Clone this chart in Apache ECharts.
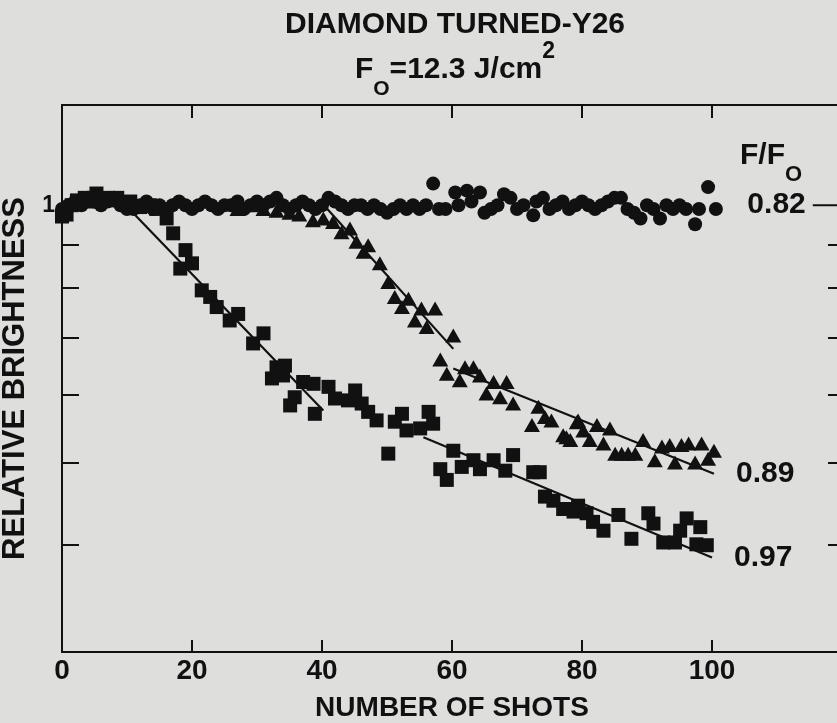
<!DOCTYPE html>
<html>
<head>
<meta charset="utf-8">
<script src="https://cdn.jsdelivr.net/npm/echarts@6/dist/echarts.min.js"></script>
<style>
  html, body { margin: 0; padding: 0; background: #dedfdd; }
  #chart { width: 837px; height: 723px; }
</style>
</head>
<body>
<div id="chart"></div>
<script>
// Axis ticks and labels
const xTickLabels = [0, 20, 40, 60, 80, 100];
const yTickValues = [0.4, 0.5, 0.6, 0.7, 0.8, 0.9, 1];
const yRightTickValues = [0.4, 0.5, 0.6, 0.7, 0.8, 0.9];
const yLabelValues = [1];
const ratioLabels = ['0.82', '0.89', '0.97'];

// F/F0 = 0.82 (circles): [shot, relative brightness]
const circles = [
  [0, 0.99], [1, 1.00], [2, 1.01], [3, 1.00], [4, 1.02], [5, 1.01], [6, 1.00], [7, 1.01],
  [8, 1.02], [9, 1.00], [10, 0.99], [11, 0.99], [12, 1.00], [13, 1.01], [14, 0.99], [15, 1.00],
  [16, 0.99], [17, 1.00], [18, 1.01], [19, 1.00], [20, 0.99], [21, 1.00], [22, 1.01], [23, 1.00],
  [24, 0.99], [25, 1.00], [26, 1.00], [27, 1.01], [28, 0.99], [29, 1.00], [30, 1.01], [31, 1.00],
  [32, 1.01], [33, 1.02], [34, 1.00], [35, 0.99], [36, 1.00], [37, 1.01], [38, 1.00], [39, 0.99],
  [40, 1.00], [41, 1.02], [42, 1.01], [43, 1.00], [44, 0.99], [45, 1.00], [46, 1.00], [47, 0.99],
  [48, 1.00], [49, 0.99], [50, 0.98], [51, 0.99], [52, 1.00], [53, 0.99], [54, 1.00], [55, 0.99],
  [56, 1.00], [57.1, 1.06], [58, 0.99], [59, 0.99], [60.5, 1.035], [61, 1.00], [62.3, 1.04],
  [63, 1.01], [64.3, 1.035], [65, 0.98], [66, 0.99], [67, 1.00], [68, 1.03], [69, 1.02], [70, 0.99],
  [71, 1.00], [72.5, 0.973], [73, 1.01], [74, 1.02], [75, 0.99], [76, 1.00], [77, 1.01], [78, 0.99],
  [79, 1.00], [80, 1.01], [81, 1.00], [82, 0.99], [83, 1.00], [84, 1.01], [85, 1.02], [86, 1.02],
  [87, 0.99], [88, 0.98], [89, 0.965], [90, 1.00], [91, 0.99], [92, 0.965], [93, 1.00], [94, 0.99],
  [95, 1.00], [96, 0.99], [97.4, 0.95], [98, 0.99], [99.4, 1.05], [100.6, 0.99]
];

// F/F0 = 0.89 (triangles)
const triangles = [
  [27, 0.99], [29.5, 1.00], [31, 0.99], [33, 0.985], [35, 0.98], [36.5, 0.975], [38.6, 0.96],
  [40.2, 0.965], [41.7, 0.956], [43.0, 0.930], [44.3, 0.939], [45.3, 0.906], [46.4, 0.882],
  [47.1, 0.898], [48.9, 0.855], [50.2, 0.813], [51.2, 0.781], [52.3, 0.760], [53.3, 0.777],
  [54.3, 0.733], [55.3, 0.757], [56.1, 0.720], [57.4, 0.757], [60.2, 0.704], [58.2, 0.660],
  [59.2, 0.635], [61.2, 0.624], [62.0, 0.646], [63.3, 0.646], [64.3, 0.632], [65.3, 0.602],
  [66.4, 0.621], [67.4, 0.596], [68.4, 0.621], [69.4, 0.586], [72.3, 0.553], [73.3, 0.581],
  [74.3, 0.565], [75.3, 0.560], [77.1, 0.538], [77.6, 0.535], [78.2, 0.531], [79.2, 0.557],
  [79.4, 0.560], [80.2, 0.545], [81.2, 0.531], [82.3, 0.553], [83.3, 0.526], [84.3, 0.548],
  [85.1, 0.512], [86.1, 0.512], [87.1, 0.512], [88.2, 0.512], [89.4, 0.531], [91.2, 0.503],
  [92.3, 0.522], [93.5, 0.524], [94.3, 0.500], [95.3, 0.524], [96.4, 0.526], [97.4, 0.500],
  [98.4, 0.526], [99.4, 0.505], [100.3, 0.516]
];

// F/F0 = 0.97 (squares)
const squares = [
  [0, 0.97], [0.7, 0.975], [1.5, 1.00], [2.3, 1.013], [3.5, 1.02], [4.5, 1.01], [5.3, 1.032],
  [6.5, 1.02], [7.4, 1.013], [8.5, 1.02], [9.4, 1.004], [10.5, 1.01], [12.0, 0.995], [13.5, 1.00],
  [14.5, 0.99], [16.1, 0.965], [17.1, 0.927], [18.2, 0.843], [19.0, 0.886], [20.0, 0.855],
  [21.5, 0.795], [22.8, 0.781], [23.8, 0.760], [25.8, 0.733], [27.1, 0.746], [29.4, 0.689],
  [31.0, 0.708], [32.3, 0.627], [33.0, 0.646], [34.0, 0.632], [34.3, 0.649], [35.1, 0.583],
  [35.8, 0.596], [37.1, 0.621], [38.7, 0.618], [38.9, 0.570], [41.0, 0.613], [42.0, 0.594],
  [44.0, 0.591], [45.1, 0.607], [46.1, 0.586], [47.1, 0.573], [48.4, 0.560], [50.2, 0.512],
  [51.2, 0.558], [52.3, 0.570], [53.0, 0.545], [55.1, 0.548], [56.4, 0.573], [57.1, 0.555],
  [58.2, 0.491], [59.2, 0.477], [60.2, 0.516], [61.5, 0.494], [63.3, 0.503], [64.3, 0.491],
  [66.4, 0.503], [68.2, 0.489], [69.4, 0.510], [72.5, 0.487], [73.5, 0.487], [74.3, 0.456],
  [75.6, 0.451], [77.1, 0.441], [77.6, 0.441], [78.7, 0.438], [79.4, 0.445], [80.7, 0.436],
  [81.7, 0.426], [83.3, 0.416], [85.6, 0.434], [87.6, 0.407], [90.2, 0.436], [91.0, 0.424],
  [92.5, 0.403], [94.3, 0.403], [95.1, 0.416], [96.1, 0.430], [97.6, 0.401], [98.2, 0.420],
  [99.2, 0.400]
];

// Fitted decay lines
const triFit1 = [[40.3, 1.0], [60.2, 0.679]];
const triFit2 = [[60.2, 0.644], [100.3, 0.485]];
const sqFit1 = [[9.8, 1.0], [40.2, 0.575]];
const sqFit2 = [[55.6, 0.535], [100, 0.387]];
// Short reference dash at the right edge for the 0.82 curve
const refDash = [[115.5, 1.0], [121, 1.0]];

const INK = '#111111';
const FONT = 'Liberation Sans';
const WEIGHT = 'bold';

const chart = echarts.init(document.getElementById('chart'), null, { renderer: 'canvas' });

function fitLine(data, label) {
  return {
    type: 'line', data, showSymbol: false, symbol: 'none', silent: true,
    lineStyle: { color: INK, width: 2.2 },
    endLabel: label ? {
      show: true, formatter: label, color: INK, fontFamily: FONT, fontWeight: WEIGHT,
      fontSize: 30, distance: 22
    } : { show: false },
    z: 3
  };
}

const textBase = { color: INK, fontFamily: FONT, fontWeight: WEIGHT };

chart.setOption({
  animation: false,
  backgroundColor: '#dedfdd',
  grid: { left: 62, top: 105, width: 780, height: 547, containLabel: false, outerBoundsMode: 'none' },
  xAxis: [
    {
      type: 'value', min: 0, max: 120, interval: 20, position: 'bottom',
      name: 'NUMBER OF SHOTS', nameLocation: 'middle', nameGap: 42,
      nameTextStyle: Object.assign({ fontSize: 28 }, textBase),
      axisLine: { show: true, onZero: false, lineStyle: { color: INK, width: 2 } },
      axisTick: { show: true, inside: true, length: 12, lineStyle: { color: INK, width: 2 } },
      axisLabel: Object.assign({ show: true, customValues: xTickLabels, margin: 5, fontSize: 28 }, textBase),
      splitLine: { show: false }
    },
    {
      type: 'value', min: 0, max: 120, interval: 20, position: 'top',
      axisLine: { show: true, onZero: false, lineStyle: { color: INK, width: 2 } },
      axisTick: { show: true, inside: true, length: 13, lineStyle: { color: INK, width: 2 } },
      axisLabel: { show: false },
      splitLine: { show: false }
    }
  ],
  yAxis: [
    {
      type: 'log', logBase: 10, min: 0.3, max: 1.31, position: 'left',
      name: 'RELATIVE BRIGHTNESS', nameLocation: 'middle', nameGap: 28,
      nameTextStyle: Object.assign({ fontSize: 31 }, textBase),
      axisLine: { show: true, onZero: false, lineStyle: { color: INK, width: 2 } },
      axisTick: { show: true, inside: true, length: 17, customValues: yTickValues, lineStyle: { color: INK, width: 2 } },
      axisLabel: Object.assign({
        show: true, customValues: yLabelValues, formatter: v => String(Math.round(v)),
        margin: 7, fontSize: 23
      }, textBase),
      splitLine: { show: false }
    },
    {
      type: 'log', logBase: 10, min: 0.3, max: 1.31, position: 'right',
      axisLine: { show: true, onZero: false, lineStyle: { color: INK, width: 2 } },
      axisTick: { show: true, inside: true, length: 14, customValues: yRightTickValues, lineStyle: { color: INK, width: 2 } },
      axisLabel: { show: false },
      splitLine: { show: false }
    }
  ],
  series: [
    {
      type: 'scatter', data: circles, symbol: 'circle', symbolSize: 14,
      itemStyle: { color: INK, opacity: 1 }, z: 4
    },
    {
      type: 'scatter', data: triangles, symbol: 'triangle', symbolSize: [16, 14],
      itemStyle: { color: INK, opacity: 1 }, z: 4
    },
    {
      type: 'scatter', data: squares, symbol: 'rect', symbolSize: 14,
      itemStyle: { color: INK, opacity: 1 }, z: 4
    },
    fitLine(triFit1),
    fitLine(triFit2, ratioLabels[1]),
    fitLine(sqFit1),
    fitLine(sqFit2, ratioLabels[2]),
    {
      type: 'line', data: refDash, showSymbol: false, symbol: 'none', silent: true, clip: true,
      lineStyle: { color: INK, width: 2 }, z: 3,
      markPoint: {
        symbol: 'circle', symbolSize: 0, silent: true,
        data: [{ coord: refDash[0] }],
        label: Object.assign({
          show: true, position: 'left', distance: 7, formatter: ratioLabels[0], fontSize: 30
        }, textBase)
      }
    }
  ],
  graphic: [
    {
      type: 'text', x: 455, y: 25,
      style: {
        text: 'DIAMOND TURNED-Y26', fill: INK, font: `bold 30px "${FONT}"`,
        align: 'center', verticalAlign: 'middle'
      }
    },
    {
      type: 'text', x: 455, y: 70,
      style: {
        text: '{m|F}{s|O}{m|=12.3 J/cm}{p|2}',
        align: 'center', verticalAlign: 'middle',
        rich: {
          m: { fontFamily: FONT, fontWeight: WEIGHT, fontSize: 30, lineHeight: 60, fill: INK, verticalAlign: 'middle' },
          s: { fontFamily: FONT, fontWeight: WEIGHT, fontSize: 21, lineHeight: 20, fill: INK, verticalAlign: 'bottom' },
          p: { fontFamily: FONT, fontWeight: WEIGHT, fontSize: 23, lineHeight: 27, fill: INK, verticalAlign: 'top' }
        }
      }
    },
    {
      type: 'text', x: 740, y: 156,
      style: {
        text: '{m|F/F}{s|O}',
        align: 'left', verticalAlign: 'middle',
        rich: {
          m: { fontFamily: FONT, fontWeight: WEIGHT, fontSize: 30, lineHeight: 60, fill: INK, verticalAlign: 'middle' },
          s: { fontFamily: FONT, fontWeight: WEIGHT, fontSize: 22, lineHeight: 22, fill: INK, verticalAlign: 'bottom' }
        }
      }
    }
  ]
});
</script>
</body>
</html>
